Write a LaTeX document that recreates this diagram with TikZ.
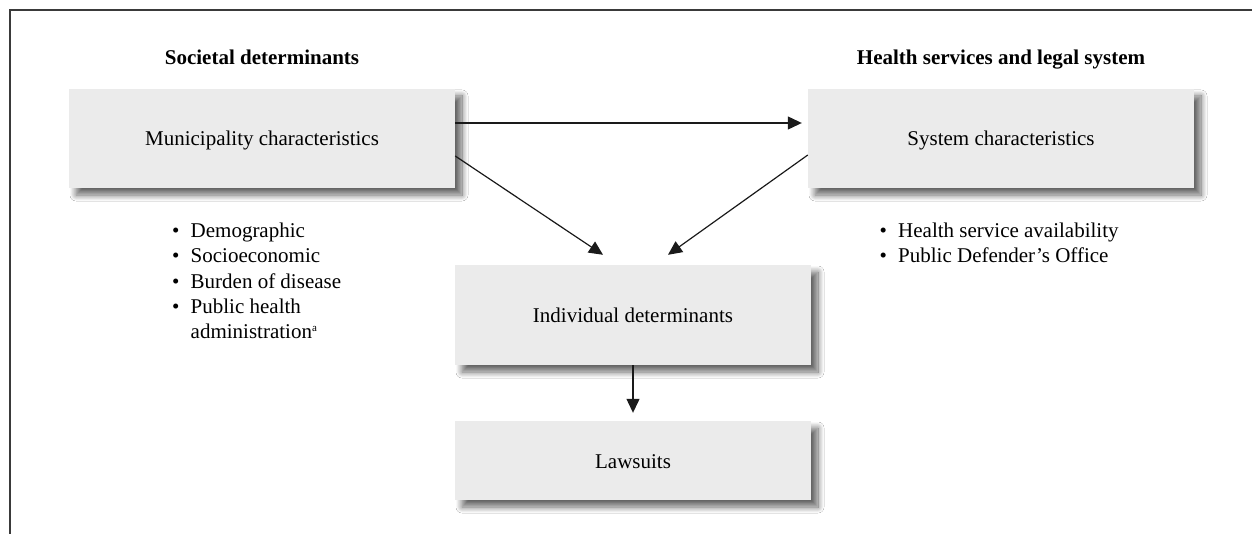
\documentclass[tikz,border=0pt]{standalone}
\usepackage{fontspec}
\setmainfont{Liberation Serif}
\usetikzlibrary{arrows.meta,shadows.blur}
\definecolor{boxfill}{HTML}{EBEBEB}
\definecolor{framecol}{HTML}{3A3A3A}
\definecolor{arrowcol}{HTML}{1A1A1A}
\tikzset{
  boxnode/.style={rectangle, fill=boxfill, inner sep=0pt, text height=15pt, text depth=0pt,
    font=\fontsize{21}{24}\selectfont,
    blur shadow={shadow xshift=7pt, shadow yshift=-7pt, shadow blur radius=6pt, shadow blur steps=14, shadow opacity=60}},
  titlenode/.style={anchor=base, inner sep=0pt, font=\fontsize{21}{24}\selectfont\bfseries},
  listnode/.style={anchor=north west, inner sep=0pt, align=left, font=\fontsize{21}{25.4}\selectfont},
  arr/.style={draw=arrowcol, line width=1.2pt, -{Triangle[length=14pt,width=13pt]}},
  framestyle/.style={draw=framecol, line width=2pt}
}
\newcommand{\bul}{\makebox[18.5pt][l]{\textbullet}}
\newcommand{\nobul}{\hspace*{18.5pt}}
\begin{document}
\begin{tikzpicture}[x=1pt,y=-1pt]
\useasboundingbox (0,0) rectangle (1252,534);
\fill[white] (0,0) rectangle (1252,534);
\draw[framestyle] (10,536) -- (10,10) -- (1254,10);

\node[titlenode] (t1) at (262,65) {Societal determinants};
\node[titlenode] (t2) at (1001,65) {Health services and legal system};

\node[boxnode, minimum width=386pt, minimum height=99pt] (mun) at (262,138.5) {Municipality characteristics};
\node[boxnode, minimum width=386pt, minimum height=99pt] (sys) at (1001,138.5) {System characteristics};
\node[boxnode, minimum width=356pt, minimum height=100pt] (ind) at (633,315) {Individual determinants};
\node[boxnode, minimum width=356pt, minimum height=79pt] (law) at (633,460.5) {Lawsuits};

\node[listnode] (l1) at (172,222.5) {\bul Demographic\\ \bul Socioeconomic\\ \bul Burden of disease\\ \bul Public health\\ \nobul administration\textsuperscript{\fontsize{11}{11}\selectfont a}};
\node[listnode] (l2) at (879.5,222.5) {\bul Health service availability\\ \bul Public Defender’s Office};

\draw[arr] ([yshift=15.5pt]mun.east) -- ([yshift=15.5pt,xshift=-6pt]sys.west);
\draw[arr] ([yshift=-17.5pt]mun.east) -- ([xshift=-30pt,yshift=10pt]ind.north);
\draw[arr] ([yshift=-16.5pt]sys.west) -- ([xshift=35pt,yshift=10pt]ind.north);
\draw[arr] (ind.south) -- ([yshift=8pt]law.north);
\end{tikzpicture}
\end{document}
